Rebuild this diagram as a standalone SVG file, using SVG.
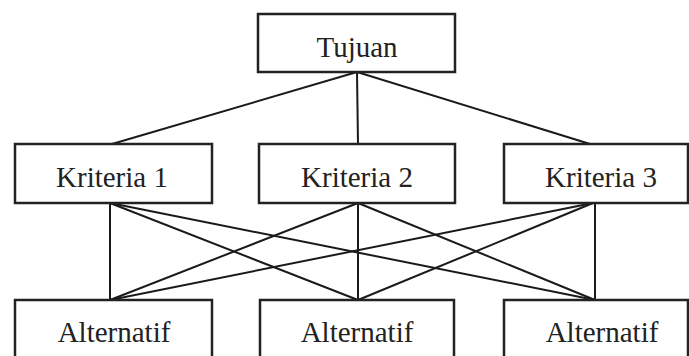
<svg xmlns="http://www.w3.org/2000/svg" width="689" height="356" viewBox="0 0 689 356">
<style>
.box{fill:#fff;stroke:#222;stroke-width:2.5}
.lbl{font-family:"Liberation Serif","Times New Roman",serif;font-size:29px;fill:#222;text-anchor:middle}
.ln{stroke:#1a1a1a;stroke-width:2;fill:none}
</style>
<rect width="689" height="356" fill="#fff"/>
<g id="connectors">
<line class="ln" x1="357" y1="72" x2="112" y2="144"/>
<line class="ln" x1="357" y1="72" x2="358" y2="144"/>
<line class="ln" x1="357" y1="72" x2="590" y2="144"/>
<line class="ln" x1="110" y1="203" x2="110" y2="300"/>
<line class="ln" x1="110" y1="203" x2="358" y2="300"/>
<line class="ln" x1="110" y1="203" x2="595" y2="300"/>
<line class="ln" x1="358" y1="203" x2="110" y2="300"/>
<line class="ln" x1="358" y1="203" x2="358" y2="300"/>
<line class="ln" x1="358" y1="203" x2="595" y2="300"/>
<line class="ln" x1="593" y1="203" x2="110" y2="300"/>
<line class="ln" x1="593" y1="203" x2="358" y2="300"/>
<line class="ln" x1="595" y1="203" x2="595" y2="300"/>
</g>
<g id="tujuan"><rect class="box" x="258" y="14" width="197" height="58"/><text class="lbl" x="357" y="57">Tujuan</text></g>
<g id="kriteria1"><rect class="box" x="15" y="144" width="197" height="59"/><text class="lbl" x="112" y="187">Kriteria 1</text></g>
<g id="kriteria2"><rect class="box" x="259" y="144" width="196" height="59"/><text class="lbl" x="357" y="187">Kriteria 2</text></g>
<g id="kriteria3"><rect class="box" x="504" y="144" width="184" height="59"/><text class="lbl" x="601" y="187">Kriteria 3</text></g>
<g id="alternatif1"><rect class="box" x="15" y="300" width="197" height="70"/><text class="lbl" x="114" y="342">Alternatif</text></g>
<g id="alternatif2"><rect class="box" x="260" y="300" width="194" height="70"/><text class="lbl" x="357" y="342">Alternatif</text></g>
<g id="alternatif3"><rect class="box" x="504" y="300" width="184" height="70"/><text class="lbl" x="602" y="342">Alternatif</text></g>
</svg>
